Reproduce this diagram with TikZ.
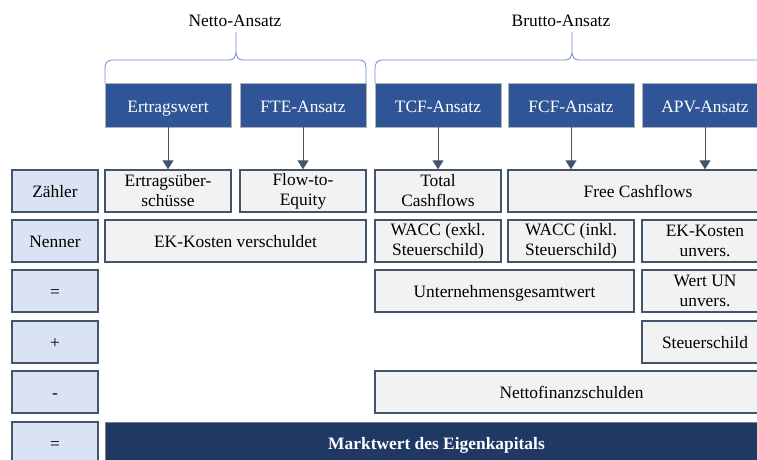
\documentclass[tikz,border=0pt]{standalone}
\usepackage{fontspec}
\setmainfont{Liberation Serif}
\usetikzlibrary{arrows.meta}
\definecolor{headblue}{HTML}{2F5597}
\definecolor{darknavy}{HTML}{1F3864}
\definecolor{slate}{HTML}{44546A}
\definecolor{cellgray}{HTML}{F2F2F2}
\definecolor{rowblue}{HTML}{DAE3F3}
\definecolor{braceblue}{HTML}{4472C4}
\begin{document}
\begin{tikzpicture}[x=1pt,y=-1pt,
  every node/.style={font=\fontsize{17.4}{20}\selectfont, align=center, inner sep=0pt},
  oneline/.style={text height=13, text depth=0},
  head/.style={rectangle, fill=headblue, draw=gray!60, line width=0.8pt, text=white, minimum width=126, minimum height=44, text height=15, text depth=0},
  cell/.style={rectangle, fill=cellgray, draw=slate, line width=1.4pt, minimum height=42},
  rowlab/.style={rectangle, fill=rowblue, draw=slate, line width=1.4pt, minimum width=86, minimum height=42, oneline},
  arr/.style={draw=slate, line width=0.9pt, -{Triangle[width=11pt,length=9pt]}},
  brace/.style={draw=braceblue!80, line width=0.8pt}]
\useasboundingbox (0,0) rectangle (757,460);

\node[anchor=base] (netto) at (235,27) {Netto-Ansatz};
\node[anchor=base] (brutto) at (561,27) {Brutto-Ansatz};
\draw[brace] (105,83) -- (105,70) .. controls (105,62) and (107,60) .. (114,60) -- (228,60)
  .. controls (234,60) and (236,58) .. (236,50) -- (236,32)
  (236,50) .. controls (236,58) and (238,60) .. (244,60) -- (358,60)
  .. controls (365,60) and (366,62) .. (366,70) -- (366,83);
\draw[brace] (375,83) -- (375,70) .. controls (375,62) and (377,60) .. (384,60) -- (564,60)
  .. controls (570,60) and (572,58) .. (572,50) -- (572,32)
  (572,50) .. controls (572,58) and (574,60) .. (580,60) -- (760,60)
  .. controls (767,60) and (769,62) .. (769,70) -- (769,83);

\node[head] (h1) at (168,105) {Ertragswert};
\node[head] (h2) at (303,105) {FTE-Ansatz};
\node[head] (h3) at (438,105) {TCF-Ansatz};
\node[head] (h4) at (571,105) {FCF-Ansatz};
\node[head] (h5) at (705,105) {APV-Ansatz};

\node[rowlab] (r1) at (55,191) {Zähler};
\node[rowlab] (r2) at (55,241) {Nenner};
\node[rowlab] (r3) at (55,291) {=};
\node[rowlab] (r4) at (55,342) {+};
\node[rowlab] (r5) at (55,392) {-};
\node[rowlab] (r6) at (55,443) {=};

\node[cell, minimum width=126] (ertrag) at (168,191) {Ertragsüber-\\schüsse};
\node[cell, minimum width=126] (fte) at (303,191) {Flow-to-\\Equity};
\node[cell, minimum width=126] (tcf) at (438,191) {Total\\Cashflows};
\node[cell, minimum width=260, oneline] (fcf) at (638,191) {Free Cashflows};

\node[cell, minimum width=261, oneline] (ekv) at (235.5,241) {EK-Kosten verschuldet};
\node[cell, minimum width=126] (waccex) at (438,241) {WACC (exkl.\\Steuerschild)};
\node[cell, minimum width=126] (waccin) at (571,241) {WACC (inkl.\\Steuerschild)};
\node[cell, minimum width=126] (ekunv) at (705,241) {EK-Kosten\\unvers.};

\node[cell, minimum width=259, oneline] (ugw) at (504.5,291) {Unternehmensgesamtwert};
\node[cell, minimum width=126] (wertun) at (705,291) {Wert UN\\unvers.};

\node[cell, minimum width=126, oneline] (steuer) at (705,342) {Steuerschild};

\node[cell, minimum width=393, oneline] (nfs) at (571.5,392) {Nettofinanzschulden};

\node[rectangle, fill=darknavy, draw=gray, line width=1pt, minimum width=663, minimum height=42, text=white, oneline, font=\fontsize{17.4}{20}\selectfont\bfseries] (mw) at (436.5,443) {Marktwert des Eigenkapitals};

\draw[arr] (h1) -- (ertrag);
\draw[arr] (h2) -- (fte);
\draw[arr] (h3) -- (tcf);
\draw[arr] (h4) -- (h4 |- fcf.north);
\draw[arr] (h5) -- (h5 |- fcf.north);
\end{tikzpicture}
\end{document}
